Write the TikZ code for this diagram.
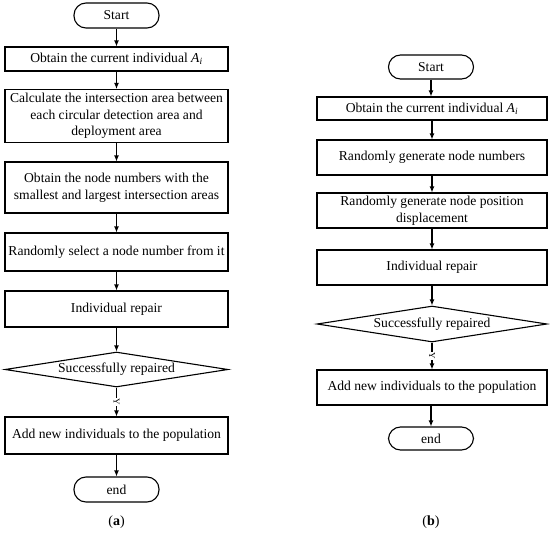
\documentclass[tikz,border=0pt]{standalone}
\usepackage{fontspec}
\setmainfont{Liberation Serif}
\usetikzlibrary{shapes.geometric,arrows.meta}
\newcommand{\Ai}{\textit{A}\textsubscript{\textit{i}}}
\begin{document}
\begin{tikzpicture}[x=1pt,y=1pt,
  every node/.style={font=\fontsize{13.6}{16.5}\selectfont},
  procbox/.style={draw,line width=1.1pt,rectangle,align=center,inner sep=1pt},
  termbox/.style={draw,line width=1.1pt,rectangle,rounded corners=12pt,minimum width=85pt,align=center,inner sep=1pt},
  decbox/.style={draw,line width=1.1pt,diamond,aspect=6.4,inner sep=0pt},
  flow/.style={line width=1.1pt,-{Latex[length=6pt,width=5pt]}},
  ylab/.style={font=\fontsize{9}{9}\selectfont,rotate=-90,fill=white,inner sep=0.6pt},
  subcaption/.style={font=\fontsize{14}{14}\selectfont}]
\useasboundingbox (0,0) rectangle (550,-533);
% ---------- panel (a) ----------
\node[termbox,minimum height=25pt] (as) at (116.5,-15.5) {Start};
\node[procbox,minimum width=223pt,minimum height=24pt] (a1) at (116.5,-59) {Obtain the current individual \Ai};
\node[procbox,minimum width=223pt,minimum height=53pt] (a2) at (116.5,-116) {Calculate the intersection area between\\each circular detection area and\\deployment area};
\node[procbox,minimum width=223pt,minimum height=51pt] (a3) at (116.5,-187.5) {Obtain the node numbers with the\\smallest and largest intersection areas};
\node[procbox,minimum width=223pt,minimum height=38pt] (a4) at (116.5,-252) {Randomly select a node number from it};
\node[procbox,minimum width=223pt,minimum height=36pt] (a5) at (116.5,-309) {Individual repair};
\node[decbox,minimum width=223pt,minimum height=35pt] (ad) at (116.5,-369.5) {Successfully repaired};
\node[procbox,minimum width=223pt,minimum height=37pt] (a6) at (116.5,-435.5) {Add new individuals to the population};
\node[termbox,minimum height=25pt] (ae) at (116.5,-489.5) {end};
\node[subcaption] (acap) at (116.5,-522) {(\textbf{a})};
\draw[flow] (as) -- (a1);
\draw[flow] (a1) -- (a2);
\draw[flow] (a2) -- (a3);
\draw[flow] (a3) -- (a4);
\draw[flow] (a4) -- (a5);
\draw[flow] (a5) -- (ad);
\draw[flow] (ad) -- node[ylab,pos=0.5] {Y} (a6);
\draw[flow] (a6) -- (ae);
% ---------- panel (b) ----------
\node[termbox,minimum height=24pt] (bs) at (431,-67) {Start};
\node[procbox,minimum width=230pt,minimum height=23pt] (b1) at (432,-108.5) {Obtain the current individual \Ai};
\node[procbox,minimum width=230pt,minimum height=35pt] (b2) at (432,-157.5) {Randomly generate node numbers};
\node[procbox,minimum width=230pt,minimum height=35pt] (b3) at (432,-210.5) {Randomly generate node position\\displacement};
\node[procbox,minimum width=230pt,minimum height=35pt] (b4) at (432,-267.5) {Individual repair};
\node[decbox,minimum width=230pt,minimum height=36pt] (bd) at (432,-324) {Successfully repaired};
\node[procbox,minimum width=230pt,minimum height=35pt] (b5) at (432,-387.5) {Add new individuals to the population};
\node[termbox,minimum height=23pt] (be) at (431,-438.5) {end};
\node[subcaption] (bcap) at (431,-522) {(\textbf{b})};
\draw[flow] (bs) -- (bs|-b1.north);
\draw[flow] (b1) -- (b2);
\draw[flow] (b2) -- (b3);
\draw[flow] (b3) -- (b4);
\draw[flow] (b4) -- (bd);
\draw[flow] (bd) -- node[ylab,pos=0.5] {Y} (b5);
\draw[flow] (be|-b5.south) -- (be);
\end{tikzpicture}
\end{document}
